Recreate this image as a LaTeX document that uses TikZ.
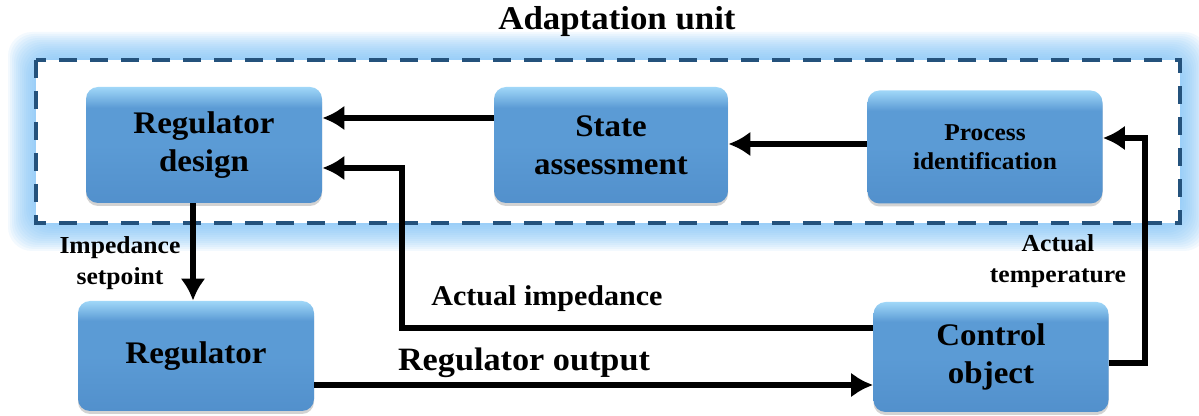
\documentclass[tikz,border=0pt]{standalone}
\usepackage{fontspec}
\setmainfont{Liberation Serif}[FakeStretch=1.05]
\usetikzlibrary{arrows.meta,shadows}

\definecolor{boxtop}{RGB}{160,215,248}
\definecolor{boxmid}{RGB}{91,155,213}
\definecolor{boxbot}{RGB}{82,144,204}
\definecolor{glowblue}{RGB}{120,190,245}
\definecolor{dashblue}{RGB}{36,82,124}

\pgfdeclareverticalshading{boxshade}{100bp}{color(0bp)=(boxbot); color(25bp)=(boxbot);
  color(50bp)=(boxmid); color(66bp)=(boxmid); color(75bp)=(boxtop); color(100bp)=(boxtop)}

\tikzset{
  box/.style={rounded corners=6pt, shading=boxshade, align=center, inner sep=0pt,
    drop shadow={opacity=0.35, shadow xshift=0pt, shadow yshift=-1.5pt},
    font=\bfseries\fontsize{15.7}{19}\selectfont},
  flow/.style={line width=3.2pt, -{Latex[length=11pt,width=12.5pt]}},
  lbl/.style={font=\bfseries\fontsize{12.2}{15.5}\selectfont, align=center}
}

\begin{document}
\begin{tikzpicture}[x=0.5pt,y=-0.5pt]
  \useasboundingbox (0,0) rectangle (1199,416);

  % adaptation unit frame with glow
  \foreach \g in {28,26,...,0}
    \fill[glowblue, opacity=0.09, rounded corners=12pt] (36-\g,60-\g) rectangle (1180+\g,223+\g);
  \fill[white] (36,60) rectangle (1180,223);
  \draw[dashblue, line width=2pt, dash pattern=on 9pt off 6.5pt] (36,60) rectangle (1180,223);
  \node[font=\bfseries\fontsize{16.6}{18}\selectfont] (title) at (617,22) {Adaptation unit};

  % blocks
  \node[box, minimum width=118pt, minimum height=58pt] (regdes) at (204,145) {Regulator\\design};
  \node[box, minimum width=117pt, minimum height=58pt] (state) at (611,145) {State\\assessment};
  \node[box, minimum width=117.5pt, minimum height=56.5pt,
        font=\bfseries\fontsize{12.1}{14.5}\selectfont] (procid) at (985,147) {Process\\identification};
  \node[box, minimum width=118pt, minimum height=55pt] (reg) at (196,356) {Regulator};
  \node[box, minimum width=117.5pt, minimum height=55pt] (ctrl) at (991,357) {Control\\object};

  \coordinate (fbk) at (402,168);
  \coordinate (tmp) at (1145,138);

  % signals
  \draw[flow] (state.west |- 0,118) -- (regdes.east |- 0,118);
  \draw[flow] (procid.west |- 0,144) -- (state.east |- 0,144);
  \draw[flow] (regdes.south -| 193,0) -- (reg.north -| 193,0);
  \draw[flow] (ctrl.west |- 0,328) -| (fbk) -- (regdes.east |- fbk);
  \draw[flow] (reg.east |- 0,385) -- (ctrl.west |- 0,385);
  \draw[flow] (ctrl.east |- 0,363) -| (tmp) -- (procid.east |- tmp);

  \node[lbl] (setp) at (120,263) {Impedance\\setpoint};
  \node[lbl] (atemp) at (1058,261) {Actual\\temperature};
  \node[font=\bfseries\fontsize{14.3}{16}\selectfont] (aimp) at (547,299) {Actual impedance};
  \node[font=\bfseries\fontsize{16.3}{18}\selectfont] (rout) at (524,363) {Regulator output};
\end{tikzpicture}
\end{document}
